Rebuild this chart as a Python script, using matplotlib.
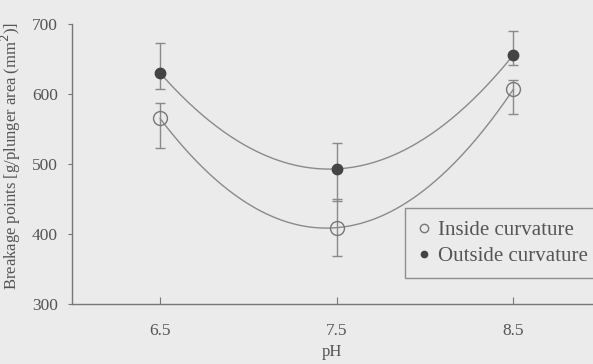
import numpy as np
import matplotlib.pyplot as plt

ph = [6.5, 7.5, 8.5]
inside = [565, 409, 607]
inside_up = [22, 41, 13]
inside_lo = [42, 40, 36]
outside = [630, 493, 656]
outside_up = [43, 37, 34]
outside_lo = [23, 46, 15]

plt.rcParams['font.family'] = ['Liberation Serif', 'DejaVu Serif']
txt = '#555555'
line = '#8a8a8a'
bg = '#ebebeb'

fig = plt.figure(figsize=(5.93, 3.64), dpi=100, facecolor=bg)
ax = fig.add_axes([0.121, 0.165, 0.879, 0.769], facecolor=bg)

# quadratic trendlines through the points
xs = np.linspace(6.5, 8.5, 200)
for vals in (inside, outside):
    c = np.polyfit(ph, vals, 2)
    ax.plot(xs, np.polyval(c, xs), color=line, lw=1.0, zorder=1)

ax.errorbar(ph, outside, yerr=[outside_lo, outside_up], fmt='none',
            ecolor=line, elinewidth=1.0, capsize=3.5, capthick=1.0, zorder=2)
ax.errorbar(ph, inside, yerr=[inside_lo, inside_up], fmt='none',
            ecolor=line, elinewidth=1.0, capsize=3.5, capthick=1.0, zorder=2)

ax.plot(ph, inside, ls='none', marker='o', ms=10, mfc='none', mec='#777777',
        mew=1.0, label='Inside curvature', zorder=3)
ax.plot(ph, outside, ls='none', marker='o', ms=7.5, mfc='#444444', mec='#444444',
        label='Outside curvature', zorder=3)

ax.set_xlim(6.0, 8.95)
ax.set_ylim(300, 700)
ax.set_xticks(ph)
ax.set_xticklabels(['6.5', '7.5', '8.5'])
ax.set_yticks([300, 400, 500, 600, 700])

for s in ('top', 'right'):
    ax.spines[s].set_visible(False)
for s in ('left', 'bottom'):
    ax.spines[s].set_color('#777777')
    ax.spines[s].set_linewidth(1.0)

ax.tick_params(axis='x', direction='in', length=5, color='#777777',
               labelcolor=txt, labelsize=12.5, pad=14)
ax.tick_params(axis='y', direction='out', length=3, color='#777777',
               labelcolor=txt, labelsize=12.5, pad=7)

ax.set_xlabel('pH', color=txt, fontsize=12, labelpad=3)
ax.set_ylabel('Breakage points [g/plunger area (mm$^2$)]', color=txt,
              fontsize=12)
ax.yaxis.set_label_coords(-0.094, 0.53)

leg = ax.legend(loc='upper left', bbox_to_anchor=(0.639, 0.343), fontsize=15,
                frameon=True, fancybox=False, handlelength=0.6,
                handletextpad=0.4, borderpad=0.6, labelspacing=0.3,
                borderaxespad=0, markerscale=0.6)
leg.get_frame().set_edgecolor('#777777')
leg.get_frame().set_facecolor(bg)
leg.get_frame().set_linewidth(1.0)
for t in leg.get_texts():
    t.set_color(txt)

fig.savefig('out.png', dpi=100, facecolor=bg)
